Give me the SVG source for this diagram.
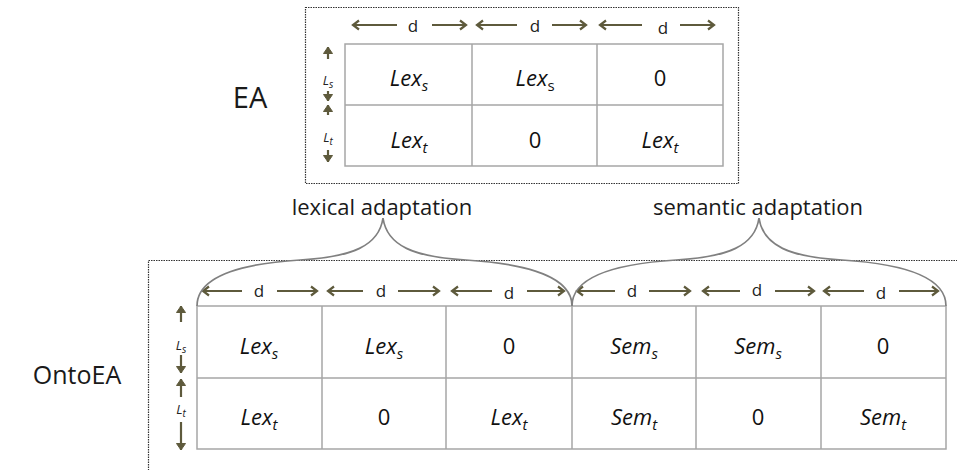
<svg xmlns="http://www.w3.org/2000/svg" width="957" height="470" viewBox="0 0 957 470">
  <style>
    .frame { fill: none; stroke: #333333; stroke-width: 1.2; stroke-dasharray: 1.5 1; }
    .grid { fill: none; stroke: #a6a6a6; stroke-width: 1.5; }
    .arr { fill: none; stroke: #5e5a3c; stroke-width: 2.2; }
    .varr { fill: none; stroke: #5e5a3c; stroke-width: 2.2; }
    .brace { fill: none; stroke: #808080; stroke-width: 1.7; }
    .title { font-family: "Open Sans", "Liberation Sans", sans-serif; fill: #1a1a1a; }
    .cell { font-family: "Open Sans", "Liberation Sans", sans-serif; font-size: 22px; fill: #111; text-anchor: middle; }
    .it { font-style: italic; }
    .d { font-family: "Open Sans", "Liberation Sans", sans-serif; font-size: 17px; fill: #222; text-anchor: middle; }
    .lab { font-family: "Open Sans", "Liberation Sans", sans-serif; font-style: italic; font-size: 13px; fill: #222; text-anchor: middle; }
  </style>
  <defs>
    <marker id="head" markerUnits="userSpaceOnUse" markerWidth="12" markerHeight="12" viewBox="0 0 12 12" refX="10" refY="6" orient="auto">
      <path d="M4,1.5 L10,6 L4,10.5" fill="none" stroke="#5e5a3c" stroke-width="2.2"/>
    </marker>
    <marker id="vhead" markerUnits="userSpaceOnUse" markerWidth="10" markerHeight="10" viewBox="0 0 10 10" refX="8" refY="5" orient="auto">
      <path d="M1.5,0.5 L8,5 L1.5,9.5 Z" fill="#5e5a3c" stroke="#5e5a3c" stroke-width="1"/>
    </marker>
  </defs>

  <rect width="957" height="470" fill="#ffffff"/>

  <!-- EA: plain lexical sampling table -->
  <g id="ea">
    <rect class="frame" x="305.5" y="7.5" width="433" height="176"/>
    <text class="title" x="250" y="108" font-size="29" text-anchor="middle">EA</text>
    <rect class="grid" x="345" y="44" width="378" height="122"/>
    <line class="grid" x1="345" y1="105" x2="723" y2="105"/>
    <line class="grid" x1="472" y1="44" x2="472" y2="166"/>
    <line class="grid" x1="597" y1="44" x2="597" y2="166"/>
    <!-- column width arrows -->
    <g class="arr">
      <line x1="397" y1="25" x2="353" y2="25" marker-end="url(#head)"/>
      <line x1="432" y1="25" x2="466" y2="25" marker-end="url(#head)"/>
      <line x1="517" y1="25" x2="477" y2="25" marker-end="url(#head)"/>
      <line x1="552" y1="25" x2="586" y2="25" marker-end="url(#head)"/>
      <line x1="642" y1="25" x2="600" y2="25" marker-end="url(#head)"/>
      <line x1="680" y1="25" x2="714" y2="25" marker-end="url(#head)"/>
    </g>
    <text class="d" x="413" y="32">d</text>
    <text class="d" x="535" y="32">d</text>
    <text class="d" x="663" y="34">d</text>
    <!-- row height arrows -->
    <g class="varr">
      <line x1="328" y1="59" x2="328" y2="47" marker-end="url(#vhead)"/>
      <line x1="328" y1="91" x2="328" y2="101" marker-end="url(#vhead)"/>
      <line x1="328" y1="115" x2="328" y2="105" marker-end="url(#vhead)"/>
      <line x1="328" y1="150" x2="328" y2="162" marker-end="url(#vhead)"/>
    </g>
    <text class="lab" x="328" y="85">L<tspan font-size="10" dy="3">s</tspan></text>
    <text class="lab" x="328" y="142">L<tspan font-size="10" dy="3">t</tspan></text>
    <!-- cells -->
    <text class="cell it" x="409" y="86">Lex<tspan font-size="15" dy="5">s</tspan></text>
    <text class="cell" x="535" y="86"><tspan class="it">Lex</tspan><tspan font-size="15" dy="5">s</tspan></text>
    <text class="cell" x="660" y="86">0</text>
    <text class="cell it" x="409" y="148">Lex<tspan font-size="15" dy="5">t</tspan></text>
    <text class="cell" x="535" y="148">0</text>
    <text class="cell it" x="660" y="148">Lex<tspan font-size="15" dy="5">t</tspan></text>
  </g>

  <!-- brace labels -->
  <g id="lexical-label">
    <text class="title" x="382" y="215" font-size="22" text-anchor="middle">lexical adaptation</text>
  </g>
  <g id="semantic-label">
    <text class="title" x="758" y="215" font-size="22" text-anchor="middle">semantic adaptation</text>
  </g>

  <!-- OntoEA: lexical plus semantic sampling table -->
  <g id="ontoea">
    <rect class="frame" x="148.5" y="260.5" width="820" height="230"/>
    <text class="title" x="77" y="384" font-size="25" text-anchor="middle">OntoEA</text>
    <rect class="grid" x="197" y="306" width="749" height="143"/>
    <line class="grid" x1="197" y1="378" x2="946" y2="378"/>
    <line class="grid" x1="322" y1="306" x2="322" y2="449"/>
    <line class="grid" x1="446" y1="306" x2="446" y2="449"/>
    <line class="grid" x1="572" y1="306" x2="572" y2="449"/>
    <line class="grid" x1="696" y1="306" x2="696" y2="449"/>
    <line class="grid" x1="821" y1="306" x2="821" y2="449"/>
    <!-- column width arrows -->
    <g class="arr">
      <line x1="242" y1="291" x2="203" y2="291" marker-end="url(#head)"/>
      <line x1="277" y1="291" x2="317" y2="291" marker-end="url(#head)"/>
      <line x1="363" y1="291" x2="328" y2="291" marker-end="url(#head)"/>
      <line x1="398" y1="291" x2="439" y2="291" marker-end="url(#head)"/>
      <line x1="492" y1="291" x2="452" y2="291" marker-end="url(#head)"/>
      <line x1="527" y1="291" x2="564" y2="291" marker-end="url(#head)"/>
      <line x1="615" y1="291" x2="577" y2="291" marker-end="url(#head)"/>
      <line x1="649" y1="291" x2="690" y2="291" marker-end="url(#head)"/>
      <line x1="740" y1="291" x2="703" y2="291" marker-end="url(#head)"/>
      <line x1="775" y1="291" x2="814" y2="291" marker-end="url(#head)"/>
      <line x1="864" y1="291" x2="824" y2="291" marker-end="url(#head)"/>
      <line x1="899" y1="291" x2="938" y2="291" marker-end="url(#head)"/>
    </g>
    <text class="d" x="259" y="297">d</text>
    <text class="d" x="381" y="297">d</text>
    <text class="d" x="509" y="299">d</text>
    <text class="d" x="632" y="297">d</text>
    <text class="d" x="757" y="296">d</text>
    <text class="d" x="881" y="299">d</text>
    <!-- row height arrows -->
    <g class="varr">
      <line x1="181" y1="322" x2="181" y2="306" marker-end="url(#vhead)"/>
      <line x1="181" y1="355" x2="181" y2="373" marker-end="url(#vhead)"/>
      <line x1="181" y1="397" x2="181" y2="379" marker-end="url(#vhead)"/>
      <line x1="181" y1="422" x2="181" y2="450" marker-end="url(#vhead)"/>
    </g>
    <text class="lab" x="181" y="350">L<tspan font-size="10" dy="3">s</tspan></text>
    <text class="lab" x="181" y="414">L<tspan font-size="10" dy="3">t</tspan></text>
    <!-- cells -->
    <text class="cell it" x="259" y="354">Lex<tspan font-size="15" dy="5">s</tspan></text>
    <text class="cell it" x="384" y="354">Lex<tspan font-size="15" dy="5">s</tspan></text>
    <text class="cell" x="509" y="354">0</text>
    <text class="cell it" x="634" y="354">Sem<tspan font-size="15" dy="5">s</tspan></text>
    <text class="cell it" x="758" y="354">Sem<tspan font-size="15" dy="5">s</tspan></text>
    <text class="cell" x="883" y="354">0</text>
    <text class="cell it" x="259" y="425">Lex<tspan font-size="15" dy="5">t</tspan></text>
    <text class="cell" x="384" y="425">0</text>
    <text class="cell it" x="509" y="425">Lex<tspan font-size="15" dy="5">t</tspan></text>
    <text class="cell it" x="634" y="425">Sem<tspan font-size="15" dy="5">t</tspan></text>
    <text class="cell" x="758" y="425">0</text>
    <text class="cell it" x="883" y="425">Sem<tspan font-size="15" dy="5">t</tspan></text>
  </g>

  <!-- curly braces grouping the columns -->
  <g id="connectors">
    <path class="brace" d="M197,306 C197,278 236,264 300,260 C352,257 379,246 383,218 C387,246 414,257 466,260 C530,264 572,278 572,306"/>
    <path class="brace" d="M572,306 C572,278 612,264 676,260 C728,257 755,246 759,218 C763,246 790,257 842,260 C906,264 946,278 946,306"/>
  </g>
</svg>
